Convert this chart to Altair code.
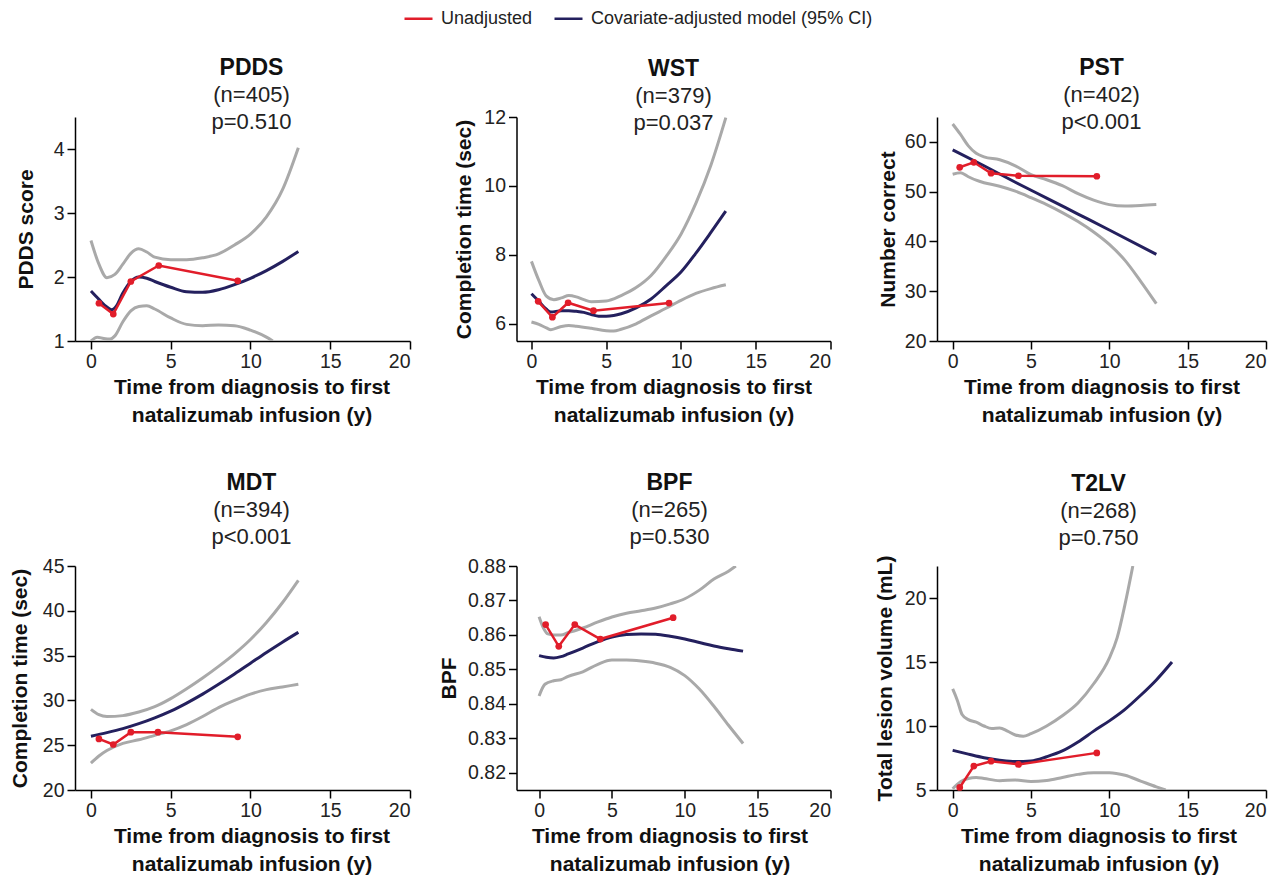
import altair as alt
import pandas as pd

RED = "#e11d2a"
NAVY = "#24205e"
GRAY = "#a9a9a9"

UNADJ = "Unadjusted"
ADJ = "Covariate-adjusted model (95% CI)"

X_TICKS = [0, 5, 10, 15, 20]
X_TITLE = ["Time from diagnosis to first", "natalizumab infusion (y)"]

# ---------------- PDDS ----------------
PDDS_RED_X = [0.5, 1.4, 2.5, 4.25, 9.2]
PDDS_RED_Y = [1.59, 1.42, 1.93, 2.18, 1.94]
PDDS_FIT_X = [0, 0.5, 1, 1.3, 1.6, 2, 2.5, 3, 3.5, 4, 5, 6, 7, 8, 9, 10, 11, 12, 13]
PDDS_FIT_Y = [1.78, 1.65, 1.53, 1.49, 1.55, 1.75, 1.93, 2.0, 1.98, 1.93, 1.84, 1.77, 1.76, 1.8, 1.88, 1.98, 2.1, 2.24, 2.40]
PDDS_UP_X = [0, 0.5, 1, 1.5, 2, 2.5, 3, 3.5, 4, 5, 6, 7, 8, 9, 10, 11, 12, 13]
PDDS_UP_Y = [2.57, 2.2, 1.99, 2.04, 2.2, 2.37, 2.44, 2.39, 2.31, 2.27, 2.27, 2.3, 2.36, 2.5, 2.67, 2.94, 3.36, 4.02]
PDDS_LO_X = [0, 0.4, 0.8, 1.2, 1.5, 2, 2.5, 3, 3.5, 4, 5, 6, 7, 8, 9, 10, 11, 11.4]
PDDS_LO_Y = [1.0, 1.06, 1.04, 1.03, 1.08, 1.3, 1.47, 1.54, 1.55, 1.5, 1.36, 1.26, 1.24, 1.25, 1.24, 1.17, 1.06, 1.0]

# ---------------- WST ----------------
WST_RED_X = [0.45, 1.4, 2.45, 4.15, 9.2]
WST_RED_Y = [6.65, 6.19, 6.61, 6.38, 6.6]
WST_FIT_X = [0, 0.5, 1, 1.3, 2, 2.5, 3, 3.5, 4, 4.5, 5, 5.5, 6, 7, 8, 9, 10, 11, 12, 13]
WST_FIT_Y = [6.87, 6.65, 6.42, 6.34, 6.38, 6.38, 6.36, 6.33, 6.27, 6.22, 6.22, 6.24, 6.29, 6.46, 6.72, 7.1, 7.5, 8.05, 8.65, 9.27]
WST_UP_X = [0, 0.5, 1, 1.5, 2, 2.5, 3, 3.5, 4, 5, 6, 7, 8, 9, 10, 11, 12, 13]
WST_UP_Y = [7.81, 7.25, 6.8, 6.7, 6.75, 6.82, 6.78, 6.7, 6.64, 6.66, 6.82, 7.05, 7.4, 7.95, 8.6, 9.5, 10.6, 11.98]
WST_LO_X = [0, 0.5, 1, 1.3, 2, 2.5, 3, 4, 5, 5.5, 6, 7, 8, 9, 10, 11, 12, 13]
WST_LO_Y = [6.05, 5.98, 5.88, 5.83, 5.92, 5.95, 5.93, 5.87, 5.8, 5.79, 5.84, 6.0, 6.23, 6.45, 6.68, 6.88, 7.02, 7.13]

# ---------------- PST ----------------
PST_RED_X = [0.45, 1.35, 2.45, 4.2, 9.2]
PST_RED_Y = [54.9, 55.9, 53.7, 53.2, 53.1]
PST_FIT_X = [0, 2, 4, 6, 8, 10, 13]
PST_FIT_Y = [58.4, 55.2, 51.9, 48.7, 45.5, 42.3, 37.4]
PST_UP_X = [0, 0.5, 1, 1.5, 2, 3, 4, 5, 6, 7, 8, 9, 10, 11, 12, 13]
PST_UP_Y = [63.6, 61.5, 59.2, 57.7, 57.0, 56.4, 55.2, 53.4, 52.4, 51.2, 49.6, 48.3, 47.4, 47.1, 47.2, 47.4]
PST_LO_X = [0, 0.5, 1, 1.5, 2, 3, 4, 5, 6, 7, 8, 9, 10, 11, 12, 13]
PST_LO_Y = [53.5, 53.8, 53.0, 52.3, 51.8, 51.1, 50.1, 48.8, 47.4, 45.8, 44.0, 41.9, 39.4, 36.2, 32.0, 27.5]

# ---------------- MDT ----------------
MDT_RED_X = [0.5, 1.4, 2.5, 4.2, 9.2]
MDT_RED_Y = [25.7, 25.08, 26.45, 26.45, 25.93]
MDT_FIT_X = [0, 1, 2, 3, 4, 5, 6, 7, 8, 9, 10, 11, 12, 13]
MDT_FIT_Y = [26.0, 26.4, 26.85, 27.4, 28.05, 28.8, 29.7, 30.7, 31.8, 32.95, 34.15, 35.35, 36.5, 37.6]
MDT_UP_X = [0, 0.5, 1, 2, 3, 4, 5, 6, 7, 8, 9, 10, 11, 12, 13]
MDT_UP_Y = [29.0, 28.4, 28.2, 28.3, 28.7, 29.3, 30.2, 31.3, 32.5, 33.8, 35.2, 36.8, 38.7, 40.9, 43.4]
MDT_LO_X = [0, 0.5, 1, 2, 3, 4, 5, 6, 7, 8, 9, 10, 11, 12, 13]
MDT_LO_Y = [23.0, 23.8, 24.4, 25.2, 25.6, 26.1, 26.6, 27.3, 28.2, 29.2, 30.0, 30.7, 31.2, 31.5, 31.8]

# ---------------- BPF ----------------
BPF_RED_X = [0.45, 1.35, 2.45, 4.2, 9.2]
BPF_RED_Y = [0.863, 0.8567, 0.863, 0.8588, 0.865]
BPF_FIT_X = [0, 0.5, 1, 1.5, 2, 3, 4, 5, 6, 7, 8, 9, 10, 11, 12, 13, 14]
BPF_FIT_Y = [0.854, 0.8535, 0.8533, 0.8537, 0.8545, 0.8562, 0.858, 0.8594, 0.8601, 0.8603, 0.8602, 0.8596, 0.8588, 0.8578, 0.8568, 0.856, 0.8553]
BPF_UP_X = [0, 0.3, 0.6, 1, 1.5, 2, 2.5, 3, 4, 5, 6, 7, 8, 9, 10, 11, 12, 13, 13.5]
BPF_UP_Y = [0.8653, 0.862, 0.8603, 0.86, 0.86, 0.8607, 0.8613, 0.862, 0.8637, 0.8652, 0.8663, 0.867, 0.8678, 0.869, 0.8705, 0.873, 0.8762, 0.8785, 0.88]
BPF_LO_X = [0, 0.4, 1, 1.5, 2, 3, 4, 5, 6, 7, 8, 9, 10, 11, 12, 13, 14]
BPF_LO_Y = [0.8423, 0.8457, 0.8467, 0.847, 0.848, 0.8493, 0.8514, 0.8527, 0.8527, 0.8524, 0.8518, 0.8506, 0.8482, 0.8443, 0.8393, 0.8338, 0.8285]

# ---------------- T2LV ----------------
T2LV_RED_X = [0.45, 1.35, 2.45, 4.2, 9.2]
T2LV_RED_Y = [5.2, 6.87, 7.25, 7.0, 7.9]
T2LV_FIT_X = [0, 1, 2, 3, 4, 5, 6, 7, 8, 9, 10, 11, 12, 13, 14]
T2LV_FIT_Y = [8.1, 7.8, 7.52, 7.33, 7.22, 7.27, 7.6, 8.05, 8.75, 9.6, 10.4, 11.3, 12.4, 13.6, 15.0]
T2LV_UP_X = [0, 0.3, 0.6, 1, 1.5, 2, 2.5, 3, 3.5, 4, 4.5, 5, 6, 7, 8, 9, 10, 10.5, 11, 11.5]
T2LV_UP_Y = [12.9, 12.0, 10.9, 10.5, 10.3, 10.0, 9.8, 9.85, 9.6, 9.3, 9.2, 9.4, 10.0, 10.8, 11.8, 13.3, 15.3, 16.9, 19.5, 22.5]
T2LV_LO_X = [0, 0.5, 1, 1.5, 2, 3, 4, 5, 6, 7, 8, 9, 10, 11, 12, 13, 13.6]
T2LV_LO_Y = [5.1, 5.65, 5.9, 5.98, 5.9, 5.73, 5.78, 5.66, 5.75, 5.98, 6.22, 6.35, 6.35, 6.15, 5.7, 5.25, 5.0]

FONT = "Liberation Sans"

LEGEND = alt.Legend(
    orient="none", legendX=328, legendY=-114, direction="horizontal", title=None,
    labelFont=FONT, labelFontSize=18, labelColor="#222222", labelLimit=500,
    symbolType="stroke", symbolStrokeWidth=2.5, symbolSize=784,
    columnPadding=16, labelOffset=7, padding=0, offset=0,
)
COLOR_SCALE = alt.Scale(domain=[UNADJ, ADJ], range=[RED, NAVY])


def panel(name, n_txt, p_txt, ytitle, ydom, yticks, xdom, width, toff, tdx, ytp,
          rx, ry, fx, fy, ux, uy, lx, ly, yfmt=""):
    ci = pd.DataFrame({"x": ux + lx, "y": uy + ly,
                       "band": ["upper"] * len(ux) + ["lower"] * len(lx)})
    fit = pd.DataFrame({"x": fx, "y": fy, "series": [ADJ] * len(fx)})
    raw = pd.DataFrame({"x": rx, "y": ry, "series": [UNADJ] * len(rx)})

    x = alt.X("x:Q", scale=alt.Scale(domain=xdom, nice=False, zero=False),
              axis=alt.Axis(values=X_TICKS, title=X_TITLE, titleLineHeight=28,
                            titleX=width / 2 + tdx))
    yaxis_kw = dict(values=yticks, title=ytitle, titlePadding=ytp)
    if yfmt:
        yaxis_kw["format"] = yfmt
    y = alt.Y("y:Q", scale=alt.Scale(domain=ydom, nice=False, zero=False),
              axis=alt.Axis(**yaxis_kw))
    color = alt.Color("series:N", scale=COLOR_SCALE, legend=LEGEND)

    gray = alt.Chart(ci).mark_line(color=GRAY, strokeWidth=3, interpolate="monotone", clip=True).encode(
        x=x, y=y, detail="band:N")
    blue = alt.Chart(fit).mark_line(strokeWidth=3, interpolate="monotone", clip=True).encode(
        x=x, y=y, color=color)
    red = alt.Chart(raw).mark_line(strokeWidth=2.5).encode(x=x, y=y, color=color)
    pts = alt.Chart(raw).mark_circle(size=45, color=RED, opacity=1).encode(x=x, y=y)

    return alt.layer(gray, blue, red, pts).properties(
        width=width, height=224,
        title=alt.TitleParams(
            text=name, subtitle=[n_txt, p_txt], anchor="middle", frame="group",
            font=FONT, fontSize=23, fontWeight="bold", color="#111111",
            subtitleFont=FONT, subtitleFontSize=22, subtitleColor="#222222",
            subtitlePadding=5, subtitleLineHeight=27, offset=toff, dx=tdx,
        ),
    )


p1 = panel("PDDS", "(n=405)", "p=0.510", "PDDS score", [1, 4.5], [1, 2, 3, 4], [-1, 20], 335, -16, 9, 17,
           PDDS_RED_X, PDDS_RED_Y, PDDS_FIT_X, PDDS_FIT_Y, PDDS_UP_X, PDDS_UP_Y, PDDS_LO_X, PDDS_LO_Y)
p2 = panel("WST", "(n=379)", "p=0.037", "Completion time (sec)", [5.5, 12], [6, 8, 10, 12], [-1, 20], 314, -27, 0, 9,
           WST_RED_X, WST_RED_Y, WST_FIT_X, WST_FIT_Y, WST_UP_X, WST_UP_Y, WST_LO_X, WST_LO_Y)
p3 = panel("PST", "(n=402)", "p<0.001", "Number correct", [20, 65], [20, 30, 40, 50, 60], [-1, 20], 329, -16, 0, 6,
           PST_RED_X, PST_RED_Y, PST_FIT_X, PST_FIT_Y, PST_UP_X, PST_UP_Y, PST_LO_X, PST_LO_Y)
p4 = panel("MDT", "(n=394)", "p<0.001", "Completion time (sec)", [20, 45], [20, 25, 30, 35, 40, 45], [-1, 20], 335, 8, 9, 12,
           MDT_RED_X, MDT_RED_Y, MDT_FIT_X, MDT_FIT_Y, MDT_UP_X, MDT_UP_Y, MDT_LO_X, MDT_LO_Y)
p5 = panel("BPF", "(n=265)", "p=0.530", "BPF", [0.815, 0.88], [0.82, 0.83, 0.84, 0.85, 0.86, 0.87, 0.88], [-1.55, 20], 314, 8, -4, 8,
           BPF_RED_X, BPF_RED_Y, BPF_FIT_X, BPF_FIT_Y, BPF_UP_X, BPF_UP_Y, BPF_LO_X, BPF_LO_Y, yfmt=".2f")
p6 = panel("T2LV", "(n=268)", "p=0.750", "Total lesion volume (mL)", [5, 22.5], [5, 10, 15, 20], [-1, 20], 329, 6, -3, 9,
           T2LV_RED_X, T2LV_RED_Y, T2LV_FIT_X, T2LV_FIT_Y, T2LV_UP_X, T2LV_UP_Y, T2LV_LO_X, T2LV_LO_Y)

chart = alt.concat(
    p1, p2, p3, p4, p5, p6, columns=3, bounds="flush",
    spacing={"row": 225, "column": 106.5},
).resolve_scale(
    x="independent", y="independent", color="shared"
).properties(
    padding={"left": 1, "top": -5, "right": 5, "bottom": 5},
    background="white",
).configure_view(stroke=None).configure_axis(
    grid=False, domainColor="black", domainWidth=1.5, tickColor="black", tickWidth=1.5, tickSize=8,
    labelFont=FONT, labelFontSize=19.5, labelColor="#222222", labelPadding=3,
    titleFont=FONT, titleFontSize=21, titleFontWeight="bold", titleColor="#111111", titlePadding=6,
)

chart.save("out.html", embed_options={"renderer": "svg", "actions": False})
